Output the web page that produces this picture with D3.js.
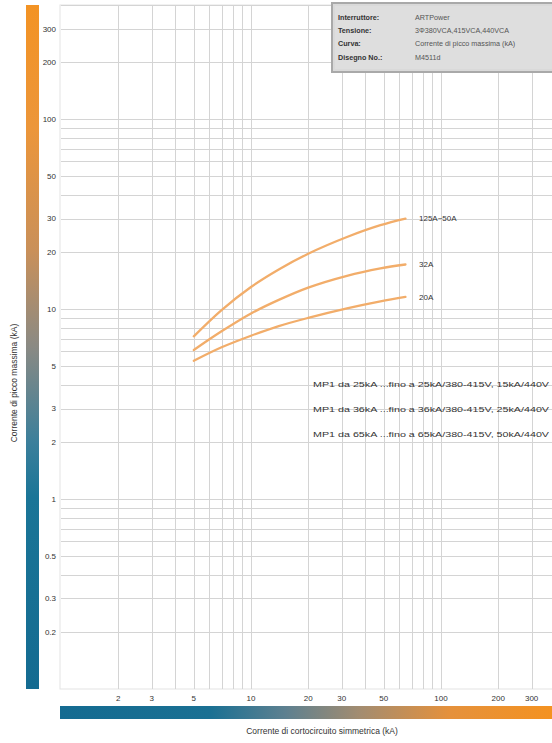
<!DOCTYPE html>
<html>
<head>
<meta charset="utf-8">
<script src="https://cdn.jsdelivr.net/npm/d3@7"></script>
<style>
  html, body { margin: 0; padding: 0; background: #fff; overflow: hidden; }
  svg { display: block; font-family: "Liberation Sans", "DejaVu Sans", sans-serif; }
</style>
</head>
<body>
<svg id="chart" width="552" height="743"></svg>
<script>
// Prospective symmetrical short-circuit current (kA) sampled along each curve
const xSample = [5, 7, 10, 14, 20, 32, 48, 65];

// Maximum peak current (kA) for each rating
const peak125to50 = [7.2, 9.9, 13.1, 16.2, 19.6, 24.0, 27.7, 30];
const peak32 = [6.1, 7.65, 9.5, 11.2, 13.0, 15.0, 16.4, 17.2];
const peak20 = [5.35, 6.3, 7.25, 8.15, 9.0, 10.1, 11.0, 11.6];

const seriesNames = ["125A~50A", "32A", "20A"];

const xTickLabels = [2, 3, 5, 10, 20, 30, 50, 100, 200, 300];
const yTickLabels = [0.2, 0.3, 0.5, 1, 2, 3, 5, 10, 20, 30, 50, 100, 200, 300];

const notes = [
  "MP1 da 25kA ...fino a 25kA/380-415V, 15kA/440V",
  "MP1 da 36kA ...fino a 36kA/380-415V, 25kA/440V",
  "MP1 da 65kA ...fino a 65kA/380-415V, 50kA/440V"
];

const infoLabels = ["Interruttore:", "Tensione:", "Curva:", "Disegno No.:"];
const infoValues = ["ARTPower", "3Φ380VCA,415VCA,440VCA", "Corrente di picco massima (kA)", "M4511d"];

const svg = d3.select("#chart");
const plotLeft = 61, plotTop = 5, plotBottom = 689;

const x = d3.scaleLog().domain([1, 400]).range([plotLeft, plotLeft + 190 * Math.log10(400)]);
const y = d3.scaleLog().domain([0.1, 400]).range([plotBottom, plotTop]);

const defs = svg.append("defs");
const vGrad = defs.append("linearGradient").attr("id", "vgrad")
  .attr("x1", 0).attr("y1", 0).attr("x2", 0).attr("y2", 1);
[[0, "#f39324"], [0.18, "#ec963a"], [0.36, "#c9905a"], [0.5, "#8a8a84"], [0.64, "#3b7f9b"], [0.72, "#1a7597"], [1, "#146b91"]]
  .forEach(([o, c]) => vGrad.append("stop").attr("offset", o).attr("stop-color", c));
const hGrad = defs.append("linearGradient").attr("id", "hgrad")
  .attr("x1", 0).attr("y1", 0).attr("x2", 1).attr("y2", 0);
[[0, "#146b91"], [0.3, "#1a7093"], [0.45, "#5d8090"], [0.6, "#a38c70"], [0.78, "#e5913c"], [1, "#f5921e"]]
  .forEach(([o, c]) => hGrad.append("stop").attr("offset", o).attr("stop-color", c));

// Plot frame
svg.append("rect").attr("x", plotLeft - 1).attr("y", plotTop).attr("width", 600).attr("height", plotBottom - plotTop)
  .attr("fill", "#fff").attr("stroke", "#e3e3e3");

const clip = defs.append("clipPath").attr("id", "plotclip");
clip.append("rect").attr("x", plotLeft - 1).attr("y", plotTop).attr("width", 600).attr("height", plotBottom - plotTop);

const grid = svg.append("g").attr("clip-path", "url(#plotclip)");
grid.selectAll("line.gx").data(x.ticks().filter(d => d > 1)).join("line")
  .attr("x1", d => Math.round(x(d)) + 0.5).attr("x2", d => Math.round(x(d)) + 0.5)
  .attr("y1", plotTop).attr("y2", plotBottom)
  .attr("stroke", "#d4d4d4").attr("stroke-width", 1);
grid.selectAll("line.gy").data(y.ticks().filter(d => d > 0.1)).join("line")
  .attr("y1", d => Math.round(y(d)) + 0.5).attr("y2", d => Math.round(y(d)) + 0.5)
  .attr("x1", plotLeft).attr("x2", 560)
  .attr("stroke", "#d4d4d4").attr("stroke-width", 1);

// Tick labels
svg.append("g").selectAll("text").data(yTickLabels).join("text")
  .attr("x", 56).attr("y", d => y(d)).attr("dy", "0.35em")
  .attr("text-anchor", "end").attr("font-size", 8).attr("fill", "#333")
  .text(d => d);
svg.append("g").selectAll("text").data(xTickLabels).join("text")
  .attr("x", d => x(d)).attr("y", 701)
  .attr("text-anchor", "middle").attr("font-size", 8).attr("fill", "#333")
  .text(d => d);

// Gradient bars along the axes
svg.append("rect").attr("x", 26).attr("y", plotTop).attr("width", 13).attr("height", plotBottom - plotTop).attr("fill", "url(#vgrad)");
svg.append("rect").attr("x", 60).attr("y", 706).attr("width", 500).attr("height", 13).attr("fill", "url(#hgrad)");

// Axis titles
svg.append("text").attr("transform", "translate(17,383) rotate(-90)")
  .attr("text-anchor", "middle").attr("font-size", 8.5).attr("fill", "#333")
  .text("Corrente di picco massima (kA)");
svg.append("text").attr("x", 322).attr("y", 734)
  .attr("text-anchor", "middle").attr("font-size", 8.5).attr("fill", "#333")
  .text("Corrente di cortocircuito simmetrica (kA)");

// Curves
const curves = [peak125to50, peak32, peak20];
const line = d3.line().x((d, i) => x(xSample[i])).y(d => y(d)).curve(d3.curveCatmullRom.alpha(0.5));
svg.append("g").selectAll("path").data(curves).join("path")
  .attr("d", d => line(d))
  .attr("fill", "none").attr("stroke", "#f2ad6a").attr("stroke-width", 2.3)
  .attr("stroke-linecap", "round");

svg.append("g").selectAll("text").data(curves).join("text")
  .attr("x", 419).attr("y", d => y(d[d.length - 1]))
  .attr("dy", "0.35em").attr("font-size", 8).attr("fill", "#333")
  .text((d, i) => seriesNames[i]);

// Breaking capacity notes
svg.append("g").selectAll("text").data(notes).join("text")
  .attr("x", 313).attr("y", (d, i) => 387 + i * 25)
  .attr("font-size", 7.5).attr("fill", "#333")
  .attr("textLength", 236).attr("lengthAdjust", "spacingAndGlyphs")
  .text(d => d);

// Title block
const box = svg.append("g");
box.append("rect").attr("x", 332).attr("y", 3).attr("width", 230).attr("height", 69)
  .attr("fill", "#d9d9d9").attr("stroke", "#a9a9a9").attr("stroke-width", 2);
box.append("rect").attr("x", 335).attr("y", 6).attr("width", 230).attr("height", 63)
  .attr("fill", "#dedede");
box.selectAll("text.lab").data(infoLabels).join("text")
  .attr("x", 338).attr("y", (d, i) => 20 + i * 13.2)
  .attr("font-size", 7.2).attr("font-weight", "bold").attr("fill", "#333")
  .text(d => d);
box.selectAll("text.val").data(infoValues).join("text")
  .attr("x", 415).attr("y", (d, i) => 20 + i * 13.2)
  .attr("font-size", 7.2).attr("fill", "#555")
  .text(d => d);
</script>
</body>
</html>
